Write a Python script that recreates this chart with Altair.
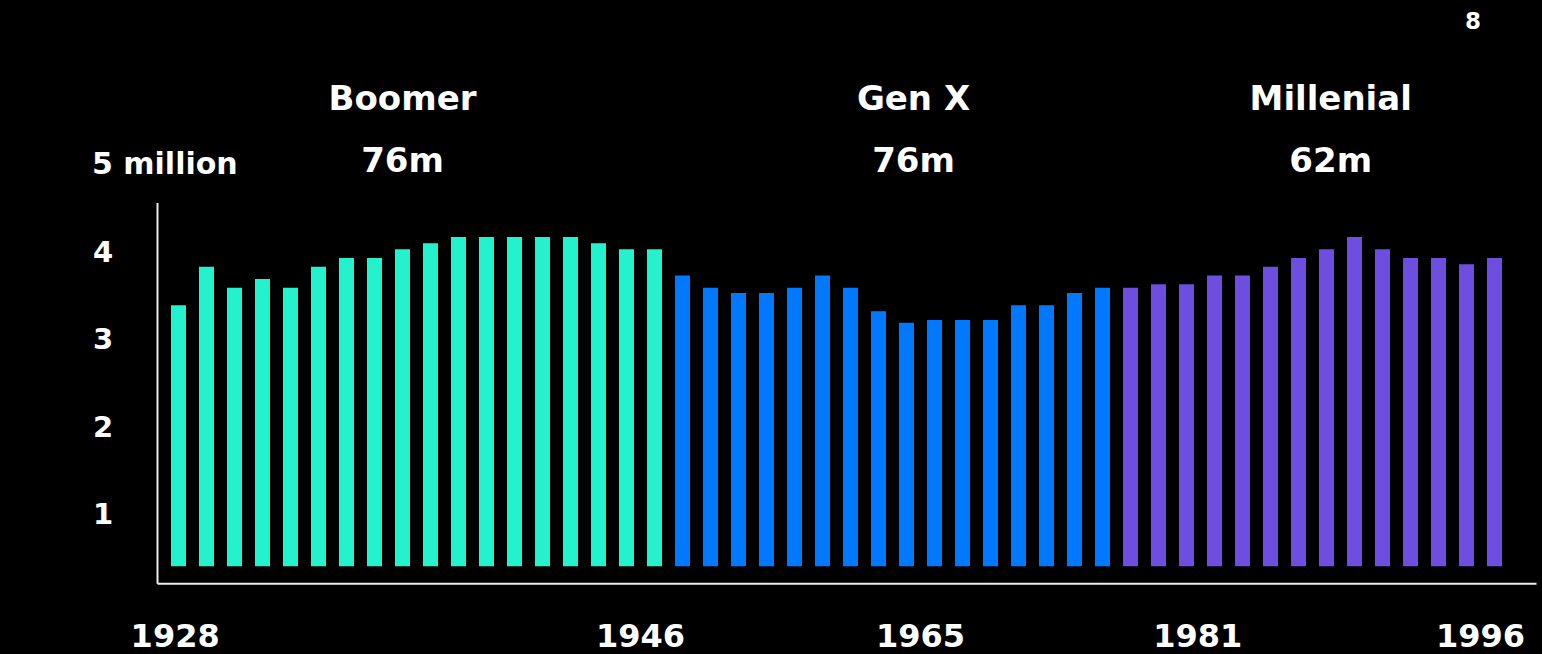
import altair as alt
import pandas as pd

# Births per year (millions), one bar per year, grouped by generation
boomer = [3.38, 3.82, 3.58, 3.68, 3.58, 3.82, 3.92, 3.92, 4.02, 4.09,
          4.16, 4.16, 4.16, 4.16, 4.16, 4.09, 4.02, 4.02]
genx = [3.72, 3.58, 3.52, 3.52, 3.58, 3.72, 3.58, 3.31, 3.18, 3.21,
        3.21, 3.21, 3.38, 3.38, 3.52, 3.58]
millennial = [3.58, 3.62, 3.62, 3.72, 3.72, 3.82, 3.92, 4.02, 4.16, 4.02,
              3.92, 3.92, 3.85, 3.92]

gen_names = ["Boomer", "Gen X", "Millenial"]
gen_totals = ["76m", "76m", "62m"]
gen_colors = ["#24F2CC", "#0078FF", "#6E4EDF"]
gen_label_pos = [8.0, 26.25, 41.15]          # bar-index position of each heading

year_labels = ["1928", "1946", "1965", "1981", "1996"]
year_label_pos = [-0.12, 16.5, 26.5, 36.4, 46.5]

y_ticks = [1, 2, 3, 4]

BAR_BASE = 0.39      # bars rise from just above the axis line
AXIS_LEVEL = 0.19    # baseline rule
AXIS_TOP = 4.55      # top of the vertical rule
AXIS_LEFT = -0.75
AXIS_RIGHT = 48.5

FONT = "DejaVu Sans"

rows = []
for name, vals in zip(gen_names, [boomer, genx, millennial]):
    for v in vals:
        rows.append({"n": len(rows), "gen": name, "value": v, "base": BAR_BASE})
bars_df = pd.DataFrame(rows)

heads_df = pd.DataFrame({"pos": gen_label_pos, "name": gen_names, "total": gen_totals})
years_df = pd.DataFrame({"pos": year_label_pos, "label": year_labels})
ticks_df = pd.DataFrame({"v": y_ticks, "label": [str(t) for t in y_ticks]})
top_df = pd.DataFrame({"v": [5], "label": ["5 million"]})
vrule_df = pd.DataFrame({"x": [AXIS_LEFT], "y": [AXIS_LEVEL], "y2": [AXIS_TOP]})
hrule_df = pd.DataFrame({"x": [AXIS_LEFT], "x2": [AXIS_RIGHT], "y": [AXIS_LEVEL]})

X = alt.Scale(domain=[-6.375, 48.696], nice=False, zero=False, padding=0)
Y = alt.Scale(domain=[-0.615, 6.876], nice=False, zero=False, padding=0)

bars = alt.Chart(bars_df).mark_bar(size=15, stroke=None).encode(
    x=alt.X("n:Q", scale=X, axis=None),
    y=alt.Y("value:Q", scale=Y, axis=None),
    y2="base:Q",
    color=alt.Color("gen:N", scale=alt.Scale(domain=gen_names, range=gen_colors), legend=None),
)

vrule = alt.Chart(vrule_df).mark_rule(color="#EDEDED", strokeWidth=2).encode(
    x=alt.X("x:Q", scale=X, axis=None),
    y=alt.Y("y:Q", scale=Y, axis=None),
    y2="y2:Q",
)
hrule = alt.Chart(hrule_df).mark_rule(color="#EDEDED", strokeWidth=2).encode(
    x=alt.X("x:Q", scale=X, axis=None),
    x2="x2:Q",
    y=alt.Y("y:Q", scale=Y, axis=None),
)

tick_text = alt.Chart(ticks_df).mark_text(
    align="left", baseline="alphabetic", dy=11, font=FONT, fontSize=29,
    fontWeight="bold", color="white",
).encode(
    x=alt.value(93),
    y=alt.Y("v:Q", scale=Y, axis=None),
    text="label:N",
)

top_text = alt.Chart(top_df).mark_text(
    align="left", baseline="alphabetic", dy=10, font=FONT, fontSize=30,
    fontWeight="bold", color="white",
).encode(
    x=alt.value(92),
    y=alt.Y("v:Q", scale=Y, axis=None),
    text="label:N",
)

year_text = alt.Chart(years_df).mark_text(
    align="center", baseline="alphabetic", font=FONT, fontSize=32,
    fontWeight="bold", color="white",
).encode(
    x=alt.X("pos:Q", scale=X, axis=None),
    y=alt.value(647),
    text="label:N",
)

head_name = alt.Chart(heads_df).mark_text(
    align="center", baseline="alphabetic", font=FONT, fontSize=34,
    fontWeight="bold", color="white",
).encode(
    x=alt.X("pos:Q", scale=X, axis=None),
    y=alt.value(110),
    text="name:N",
)

head_total = alt.Chart(heads_df).mark_text(
    align="center", baseline="alphabetic", font=FONT, fontSize=34,
    fontWeight="bold", color="white",
).encode(
    x=alt.X("pos:Q", scale=X, axis=None),
    y=alt.value(172),
    text="total:N",
)

page_num = alt.Chart(pd.DataFrame({"t": ["8"]})).mark_text(
    align="center", baseline="alphabetic", font=FONT, fontSize=23,
    fontWeight="bold", color="white",
).encode(
    x=alt.value(1473),
    y=alt.value(29),
    text="t:N",
)

chart = alt.layer(
    bars, vrule, hrule, tick_text, top_text, year_text, head_name, head_total, page_num
).properties(
    width=1542,
    height=654,
    background="black",
    padding=0,
    autosize=alt.AutoSizeParams(type="none"),
).configure_view(stroke=None)

chart.save("out.html", embed_options={"renderer": "svg", "actions": False})
